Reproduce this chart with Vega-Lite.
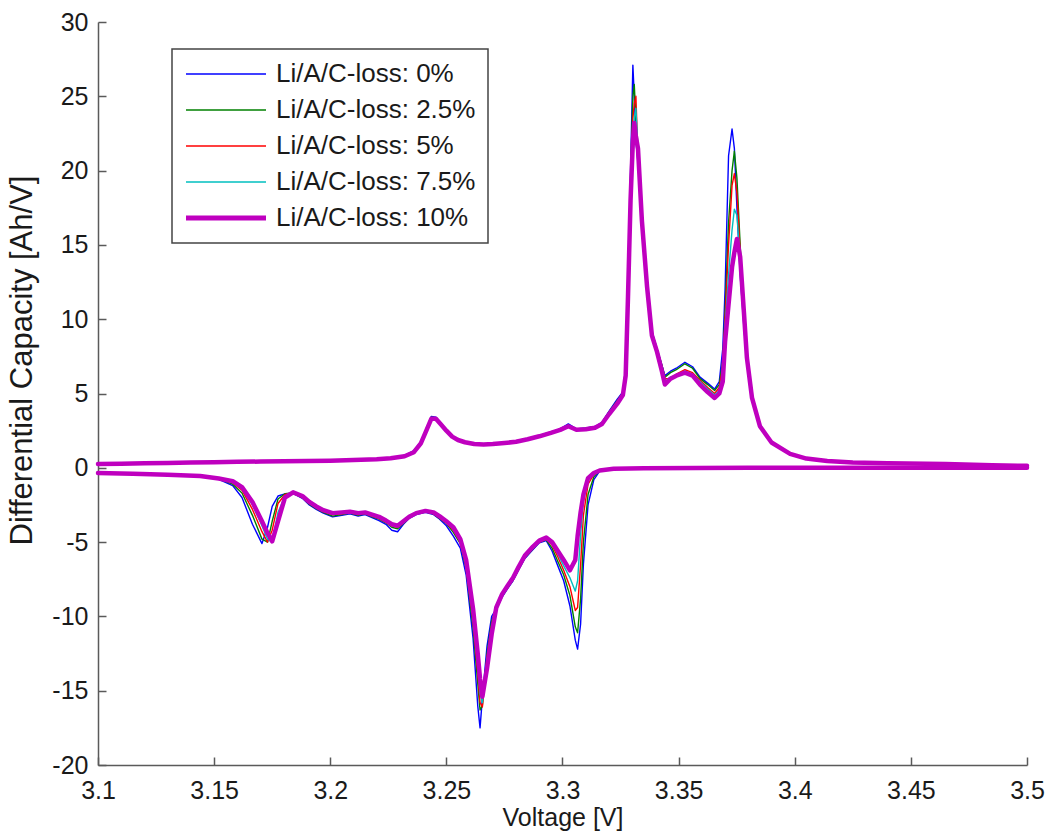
{
  "$schema": "https://vega.github.io/schema/vega-lite/v6.json",
  "width": 929,
  "height": 743,
  "autosize": {"type": "none"},
  "padding": {"left": 98, "top": 22, "right": 22, "bottom": 70},
  "background": "white",
  "config": {
    "view": {"stroke": null},
    "font": "Liberation Sans",
    "axis": {
      "grid": false,
      "domainColor": "#5a5a5a",
      "domainWidth": 1.5,
      "tickColor": "#5a5a5a",
      "tickWidth": 1.5,
      "tickSize": -8,
      "labelFont": "Liberation Sans",
      "labelFontSize": 25,
      "labelColor": "#1a1a1a",
      "titleFont": "Liberation Sans",
      "titleFontWeight": "normal",
      "titleColor": "#1a1a1a"
    }
  },
  "data": {
    "values": [
      {"br": "c", "v": 3.100, "a": 0.25, "b": 0.25, "c": 0.25, "d": 0.25, "e": 0.25},
      {"br": "c", "v": 3.110, "a": 0.28, "b": 0.27, "c": 0.28, "d": 0.28, "e": 0.27},
      {"br": "c", "v": 3.120, "a": 0.30, "b": 0.30, "c": 0.29, "d": 0.30, "e": 0.30},
      {"br": "c", "v": 3.130, "a": 0.33, "b": 0.33, "c": 0.33, "d": 0.32, "e": 0.33},
      {"br": "c", "v": 3.140, "a": 0.35, "b": 0.35, "c": 0.35, "d": 0.35, "e": 0.35},
      {"br": "c", "v": 3.150, "a": 0.38, "b": 0.37, "c": 0.38, "d": 0.38, "e": 0.37},
      {"br": "c", "v": 3.160, "a": 0.40, "b": 0.40, "c": 0.40, "d": 0.40, "e": 0.40},
      {"br": "c", "v": 3.170, "a": 0.42, "b": 0.42, "c": 0.42, "d": 0.41, "e": 0.42},
      {"br": "c", "v": 3.180, "a": 0.44, "b": 0.44, "c": 0.44, "d": 0.44, "e": 0.44},
      {"br": "c", "v": 3.190, "a": 0.46, "b": 0.46, "c": 0.46, "d": 0.46, "e": 0.46},
      {"br": "c", "v": 3.200, "a": 0.48, "b": 0.48, "c": 0.48, "d": 0.48, "e": 0.48},
      {"br": "c", "v": 3.210, "a": 0.52, "b": 0.52, "c": 0.52, "d": 0.52, "e": 0.52},
      {"br": "c", "v": 3.220, "a": 0.58, "b": 0.58, "c": 0.58, "d": 0.57, "e": 0.57},
      {"br": "c", "v": 3.226, "a": 0.66, "b": 0.65, "c": 0.65, "d": 0.65, "e": 0.64},
      {"br": "c", "v": 3.232, "a": 0.82, "b": 0.80, "c": 0.80, "d": 0.80, "e": 0.78},
      {"br": "c", "v": 3.236, "a": 1.15, "b": 1.10, "c": 1.10, "d": 1.08, "e": 1.05},
      {"br": "c", "v": 3.239, "a": 1.75, "b": 1.70, "c": 1.70, "d": 1.68, "e": 1.65},
      {"br": "c", "v": 3.2415, "a": 2.7, "b": 2.65, "c": 2.6, "d": 2.6, "e": 2.55},
      {"br": "c", "v": 3.2435, "a": 3.45, "b": 3.4, "c": 3.35, "d": 3.35, "e": 3.3},
      {"br": "c", "v": 3.2455, "a": 3.4, "b": 3.35, "c": 3.35, "d": 3.3, "e": 3.3},
      {"br": "c", "v": 3.2475, "a": 3.0, "b": 3.0, "c": 2.95, "d": 2.95, "e": 2.95},
      {"br": "c", "v": 3.250, "a": 2.55, "b": 2.55, "c": 2.5, "d": 2.5, "e": 2.5},
      {"br": "c", "v": 3.2525, "a": 2.15, "b": 2.15, "c": 2.12, "d": 2.12, "e": 2.1},
      {"br": "c", "v": 3.255, "a": 1.9, "b": 1.9, "c": 1.88, "d": 1.88, "e": 1.87},
      {"br": "c", "v": 3.258, "a": 1.75, "b": 1.74, "c": 1.73, "d": 1.73, "e": 1.72},
      {"br": "c", "v": 3.262, "a": 1.63, "b": 1.62, "c": 1.61, "d": 1.61, "e": 1.6},
      {"br": "c", "v": 3.266, "a": 1.58, "b": 1.58, "c": 1.57, "d": 1.57, "e": 1.56},
      {"br": "c", "v": 3.270, "a": 1.63, "b": 1.62, "c": 1.62, "d": 1.61, "e": 1.6},
      {"br": "c", "v": 3.275, "a": 1.70, "b": 1.70, "c": 1.68, "d": 1.68, "e": 1.67},
      {"br": "c", "v": 3.280, "a": 1.80, "b": 1.78, "c": 1.78, "d": 1.76, "e": 1.75},
      {"br": "c", "v": 3.285, "a": 1.97, "b": 1.95, "c": 1.94, "d": 1.93, "e": 1.92},
      {"br": "c", "v": 3.290, "a": 2.18, "b": 2.15, "c": 2.14, "d": 2.13, "e": 2.12},
      {"br": "c", "v": 3.295, "a": 2.42, "b": 2.40, "c": 2.38, "d": 2.37, "e": 2.35},
      {"br": "c", "v": 3.299, "a": 2.62, "b": 2.60, "c": 2.58, "d": 2.57, "e": 2.55},
      {"br": "c", "v": 3.3025, "a": 2.95, "b": 2.88, "c": 2.85, "d": 2.82, "e": 2.8},
      {"br": "c", "v": 3.306, "a": 2.62, "b": 2.6, "c": 2.6, "d": 2.58, "e": 2.56},
      {"br": "c", "v": 3.310, "a": 2.68, "b": 2.66, "c": 2.65, "d": 2.63, "e": 2.6},
      {"br": "c", "v": 3.314, "a": 2.78, "b": 2.76, "c": 2.75, "d": 2.73, "e": 2.7},
      {"br": "c", "v": 3.317, "a": 3.05, "b": 3.02, "c": 3.0, "d": 2.98, "e": 2.95},
      {"br": "c", "v": 3.320, "a": 3.8, "b": 3.75, "c": 3.7, "d": 3.65, "e": 3.6},
      {"br": "c", "v": 3.3235, "a": 4.6, "b": 4.5, "c": 4.45, "d": 4.4, "e": 4.3},
      {"br": "c", "v": 3.326, "a": 5.1, "b": 5.05, "c": 5.0, "d": 4.95, "e": 4.9},
      {"br": "c", "v": 3.3272, "a": 6.8, "b": 6.6, "c": 6.5, "d": 6.4, "e": 6.2},
      {"br": "c", "v": 3.3282, "a": 12.8, "b": 12.5, "c": 12.2, "d": 12.0, "e": 11.5},
      {"br": "c", "v": 3.3293, "a": 20.0, "b": 19.5, "c": 19.0, "d": 18.5, "e": 18.0},
      {"br": "c", "v": 3.3303, "a": 27.1, "b": 25.0, "c": 23.5, "d": 22.5, "e": 22.0},
      {"br": "c", "v": 3.3309, "a": 25.0, "b": 25.8, "c": 24.5, "d": 23.5, "e": 23.2},
      {"br": "c", "v": 3.3316, "a": 22.0, "b": 23.5, "c": 25.0, "d": 24.2, "e": 22.3},
      {"br": "c", "v": 3.3325, "a": 20.5, "b": 21.0, "c": 21.0, "d": 21.5, "e": 21.5},
      {"br": "c", "v": 3.3342, "a": 17.0, "b": 17.0, "c": 16.8, "d": 16.8, "e": 16.6},
      {"br": "c", "v": 3.3364, "a": 12.5, "b": 12.4, "c": 12.3, "d": 12.3, "e": 12.2},
      {"br": "c", "v": 3.3385, "a": 9.2, "b": 9.1, "c": 9.0, "d": 9.0, "e": 8.9},
      {"br": "c", "v": 3.3407, "a": 8.0, "b": 8.0, "c": 7.9, "d": 7.9, "e": 7.8},
      {"br": "c", "v": 3.3428, "a": 6.9, "b": 6.9, "c": 6.8, "d": 6.7, "e": 6.5},
      {"br": "c", "v": 3.3441, "a": 6.2, "b": 6.1, "c": 6.0, "d": 5.8, "e": 5.6},
      {"br": "c", "v": 3.3465, "a": 6.5, "b": 6.4, "c": 6.0, "d": 6.1, "e": 6.0},
      {"br": "c", "v": 3.349, "a": 6.7, "b": 6.6, "c": 6.3, "d": 6.2, "e": 6.2},
      {"br": "c", "v": 3.3527, "a": 7.1, "b": 7.0, "c": 6.6, "d": 6.5, "e": 6.4},
      {"br": "c", "v": 3.356, "a": 6.8, "b": 6.7, "c": 6.4, "d": 6.3, "e": 6.2},
      {"br": "c", "v": 3.3592, "a": 6.1, "b": 6.0, "c": 5.9, "d": 5.8, "e": 5.6},
      {"br": "c", "v": 3.3625, "a": 5.7, "b": 5.6, "c": 5.4, "d": 5.3, "e": 5.1},
      {"br": "c", "v": 3.3655, "a": 5.3, "b": 5.2, "c": 5.0, "d": 4.9, "e": 4.7},
      {"br": "c", "v": 3.3675, "a": 5.8, "b": 5.6, "c": 5.4, "d": 5.2, "e": 5.0},
      {"br": "c", "v": 3.369, "a": 8.0, "b": 7.2, "c": 6.8, "d": 6.3, "e": 5.8},
      {"br": "c", "v": 3.370, "a": 12.0, "b": 10.5, "c": 10.0, "d": 9.5, "e": 8.5},
      {"br": "c", "v": 3.3715, "a": 21.0, "b": 16.5, "c": 15.0, "d": 13.0, "e": 11.0},
      {"br": "c", "v": 3.373, "a": 22.8, "b": 20.0, "c": 19.0, "d": 16.0, "e": 13.5},
      {"br": "c", "v": 3.374, "a": 21.5, "b": 21.3, "c": 19.8, "d": 17.4, "e": 14.5},
      {"br": "c", "v": 3.3751, "a": 17.5, "b": 19.5, "c": 18.5, "d": 17.0, "e": 15.4},
      {"br": "c", "v": 3.3765, "a": 13.0, "b": 15.0, "c": 14.5, "d": 14.0, "e": 14.2},
      {"br": "c", "v": 3.3781, "a": 9.5, "b": 10.5, "c": 10.2, "d": 10.0, "e": 10.5},
      {"br": "c", "v": 3.3794, "a": 7.0, "b": 7.5, "c": 7.3, "d": 7.2, "e": 7.4},
      {"br": "c", "v": 3.3816, "a": 4.6, "b": 4.7, "c": 4.6, "d": 4.6, "e": 4.7},
      {"br": "c", "v": 3.385, "a": 2.9, "b": 2.85, "c": 2.8, "d": 2.8, "e": 2.8},
      {"br": "c", "v": 3.390, "a": 1.75, "b": 1.72, "c": 1.7, "d": 1.7, "e": 1.7},
      {"br": "c", "v": 3.398, "a": 0.98, "b": 0.96, "c": 0.95, "d": 0.95, "e": 0.94},
      {"br": "c", "v": 3.405, "a": 0.64, "b": 0.63, "c": 0.62, "d": 0.62, "e": 0.62},
      {"br": "c", "v": 3.414, "a": 0.48, "b": 0.47, "c": 0.47, "d": 0.47, "e": 0.46},
      {"br": "c", "v": 3.425, "a": 0.37, "b": 0.36, "c": 0.36, "d": 0.36, "e": 0.35},
      {"br": "c", "v": 3.440, "a": 0.30, "b": 0.30, "c": 0.30, "d": 0.30, "e": 0.30},
      {"br": "c", "v": 3.465, "a": 0.26, "b": 0.26, "c": 0.26, "d": 0.26, "e": 0.26},
      {"br": "c", "v": 3.485, "a": 0.18, "b": 0.18, "c": 0.18, "d": 0.18, "e": 0.18},
      {"br": "c", "v": 3.500, "a": 0.13, "b": 0.13, "c": 0.13, "d": 0.13, "e": 0.13},

      {"br": "d", "v": 3.100, "a": -0.30, "b": -0.30, "c": -0.30, "d": -0.32, "e": -0.35},
      {"br": "d", "v": 3.115, "a": -0.38, "b": -0.38, "c": -0.38, "d": -0.39, "e": -0.40},
      {"br": "d", "v": 3.130, "a": -0.45, "b": -0.45, "c": -0.45, "d": -0.46, "e": -0.47},
      {"br": "d", "v": 3.144, "a": -0.55, "b": -0.54, "c": -0.54, "d": -0.54, "e": -0.55},
      {"br": "d", "v": 3.152, "a": -0.78, "b": -0.75, "c": -0.74, "d": -0.73, "e": -0.72},
      {"br": "d", "v": 3.158, "a": -1.2, "b": -1.1, "c": -1.0, "d": -0.95, "e": -0.9},
      {"br": "d", "v": 3.162, "a": -2.0, "b": -1.7, "c": -1.5, "d": -1.4, "e": -1.3},
      {"br": "d", "v": 3.1665, "a": -3.8, "b": -3.2, "c": -2.8, "d": -2.5, "e": -2.3},
      {"br": "d", "v": 3.1706, "a": -5.1, "b": -4.8, "c": -4.3, "d": -3.9, "e": -3.6},
      {"br": "d", "v": 3.173, "a": -4.0, "b": -5.0, "c": -5.0, "d": -4.8, "e": -4.4},
      {"br": "d", "v": 3.175, "a": -2.6, "b": -3.6, "c": -4.2, "d": -5.0, "e": -4.95},
      {"br": "d", "v": 3.1775, "a": -1.9, "b": -2.1, "c": -2.4, "d": -3.0, "e": -3.6},
      {"br": "d", "v": 3.1805, "a": -1.75, "b": -1.75, "c": -1.8, "d": -1.9, "e": -2.0},
      {"br": "d", "v": 3.184, "a": -1.72, "b": -1.7, "c": -1.7, "d": -1.68, "e": -1.65},
      {"br": "d", "v": 3.188, "a": -2.05, "b": -2.0, "c": -2.0, "d": -1.95, "e": -1.9},
      {"br": "d", "v": 3.191, "a": -2.5, "b": -2.45, "c": -2.4, "d": -2.35, "e": -2.3},
      {"br": "d", "v": 3.194, "a": -2.8, "b": -2.75, "c": -2.7, "d": -2.65, "e": -2.6},
      {"br": "d", "v": 3.197, "a": -3.05, "b": -3.0, "c": -2.95, "d": -2.9, "e": -2.85},
      {"br": "d", "v": 3.201, "a": -3.3, "b": -3.25, "c": -3.15, "d": -3.1, "e": -3.05},
      {"br": "d", "v": 3.205, "a": -3.2, "b": -3.15, "c": -3.1, "d": -3.05, "e": -3.0},
      {"br": "d", "v": 3.2085, "a": -3.1, "b": -3.05, "c": -3.0, "d": -2.95, "e": -2.95},
      {"br": "d", "v": 3.212, "a": -3.25, "b": -3.2, "c": -3.15, "d": -3.1, "e": -3.05},
      {"br": "d", "v": 3.215, "a": -3.15, "b": -3.1, "c": -3.05, "d": -3.0, "e": -3.0},
      {"br": "d", "v": 3.218, "a": -3.35, "b": -3.3, "c": -3.25, "d": -3.2, "e": -3.15},
      {"br": "d", "v": 3.221, "a": -3.55, "b": -3.45, "c": -3.4, "d": -3.35, "e": -3.3},
      {"br": "d", "v": 3.224, "a": -3.8, "b": -3.7, "c": -3.65, "d": -3.6, "e": -3.55},
      {"br": "d", "v": 3.2265, "a": -4.2, "b": -4.0, "c": -3.9, "d": -3.8, "e": -3.8},
      {"br": "d", "v": 3.229, "a": -4.3, "b": -4.1, "c": -4.0, "d": -3.9, "e": -3.9},
      {"br": "d", "v": 3.2315, "a": -3.8, "b": -3.75, "c": -3.7, "d": -3.65, "e": -3.6},
      {"br": "d", "v": 3.234, "a": -3.4, "b": -3.35, "c": -3.35, "d": -3.3, "e": -3.3},
      {"br": "d", "v": 3.237, "a": -3.15, "b": -3.1, "c": -3.1, "d": -3.05, "e": -3.05},
      {"br": "d", "v": 3.241, "a": -3.0, "b": -2.95, "c": -2.95, "d": -2.9, "e": -2.9},
      {"br": "d", "v": 3.2445, "a": -3.15, "b": -3.1, "c": -3.1, "d": -3.05, "e": -3.0},
      {"br": "d", "v": 3.247, "a": -3.45, "b": -3.4, "c": -3.35, "d": -3.3, "e": -3.25},
      {"br": "d", "v": 3.250, "a": -3.9, "b": -3.75, "c": -3.7, "d": -3.65, "e": -3.6},
      {"br": "d", "v": 3.253, "a": -4.6, "b": -4.35, "c": -4.2, "d": -4.1, "e": -4.0},
      {"br": "d", "v": 3.256, "a": -5.4, "b": -5.1, "c": -5.0, "d": -4.9, "e": -4.8},
      {"br": "d", "v": 3.2585, "a": -7.2, "b": -6.8, "c": -6.6, "d": -6.4, "e": -6.2},
      {"br": "d", "v": 3.2615, "a": -11.5, "b": -10.8, "c": -10.3, "d": -10.0, "e": -9.5},
      {"br": "d", "v": 3.2635, "a": -16.0, "b": -14.5, "c": -13.8, "d": -13.2, "e": -12.5},
      {"br": "d", "v": 3.2645, "a": -17.5, "b": -16.3, "c": -15.8, "d": -15.2, "e": -14.2},
      {"br": "d", "v": 3.2655, "a": -15.5, "b": -16.0, "c": -16.1, "d": -15.8, "e": -15.4},
      {"br": "d", "v": 3.2675, "a": -12.0, "b": -12.5, "c": -12.8, "d": -13.0, "e": -13.5},
      {"br": "d", "v": 3.2695, "a": -10.0, "b": -10.3, "c": -10.6, "d": -10.8, "e": -11.2},
      {"br": "d", "v": 3.2715, "a": -9.5, "b": -9.4, "c": -9.3, "d": -9.3, "e": -9.4},
      {"br": "d", "v": 3.274, "a": -8.7, "b": -8.65, "c": -8.6, "d": -8.55, "e": -8.5},
      {"br": "d", "v": 3.2765, "a": -8.1, "b": -8.05, "c": -8.0, "d": -7.95, "e": -7.9},
      {"br": "d", "v": 3.2787, "a": -7.6, "b": -7.55, "c": -7.5, "d": -7.45, "e": -7.4},
      {"br": "d", "v": 3.281, "a": -6.9, "b": -6.85, "c": -6.8, "d": -6.75, "e": -6.7},
      {"br": "d", "v": 3.2838, "a": -6.1, "b": -6.05, "c": -6.0, "d": -5.95, "e": -5.9},
      {"br": "d", "v": 3.2873, "a": -5.5, "b": -5.45, "c": -5.4, "d": -5.35, "e": -5.3},
      {"br": "d", "v": 3.290, "a": -5.05, "b": -5.0, "c": -5.0, "d": -4.95, "e": -4.9},
      {"br": "d", "v": 3.293, "a": -4.9, "b": -4.85, "c": -4.8, "d": -4.75, "e": -4.7},
      {"br": "d", "v": 3.2955, "a": -5.6, "b": -5.4, "c": -5.2, "d": -5.1, "e": -5.0},
      {"br": "d", "v": 3.298, "a": -6.6, "b": -6.3, "c": -6.0, "d": -5.8, "e": -5.6},
      {"br": "d", "v": 3.3005, "a": -7.6, "b": -7.2, "c": -6.9, "d": -6.6, "e": -6.2},
      {"br": "d", "v": 3.3032, "a": -9.3, "b": -8.6, "c": -8.0, "d": -7.4, "e": -6.9},
      {"br": "d", "v": 3.3055, "a": -11.6, "b": -10.7, "c": -9.6, "d": -8.3, "e": -6.2},
      {"br": "d", "v": 3.3065, "a": -12.2, "b": -11.1, "c": -9.4, "d": -7.6, "e": -4.6},
      {"br": "d", "v": 3.3078, "a": -10.5, "b": -8.8, "c": -6.5, "d": -4.5, "e": -3.0},
      {"br": "d", "v": 3.309, "a": -6.5, "b": -5.0, "c": -3.2, "d": -2.2, "e": -1.8},
      {"br": "d", "v": 3.311, "a": -2.5, "b": -1.8, "c": -1.1, "d": -0.8, "e": -0.7},
      {"br": "d", "v": 3.3135, "a": -0.8, "b": -0.6, "c": -0.45, "d": -0.4, "e": -0.35},
      {"br": "d", "v": 3.316, "a": -0.22, "b": -0.2, "c": -0.2, "d": -0.2, "e": -0.18},
      {"br": "d", "v": 3.322, "a": -0.08, "b": -0.08, "c": -0.08, "d": -0.08, "e": -0.07},
      {"br": "d", "v": 3.335, "a": -0.03, "b": -0.03, "c": -0.03, "d": -0.03, "e": -0.03},
      {"br": "d", "v": 3.380, "a": 0, "b": 0, "c": 0, "d": 0, "e": 0},
      {"br": "d", "v": 3.440, "a": 0, "b": 0, "c": 0, "d": 0, "e": 0},
      {"br": "d", "v": 3.500, "a": 0, "b": 0, "c": 0, "d": 0, "e": 0}
    ]
  },
  "transform": [{"fold": ["a", "b", "c", "d", "e"], "as": ["k", "q"]}],
  "encoding": {
    "x": {
      "field": "v",
      "type": "quantitative",
      "scale": {"domain": [3.1, 3.5], "nice": false, "zero": false},
      "axis": {
        "title": "Voltage [V]",
        "titleFontSize": 25,
        "titlePadding": 2,
        "values": [3.1, 3.15, 3.2, 3.25, 3.3, 3.35, 3.4, 3.45, 3.5],
        "labelExpr": "'' + datum.value",
        "labelPadding": 21,
        "labelFlush": false,
        "labelOverlap": false
      }
    },
    "y": {
      "field": "q",
      "type": "quantitative",
      "scale": {"domain": [-20, 30], "nice": false, "zero": false},
      "axis": {
        "title": "Differential Capacity [Ah/V]",
        "titleFontSize": 31,
        "titleX": -76,
        "titleY": 338,
        "titleBaseline": "middle",
        "values": [-20, -15, -10, -5, 0, 5, 10, 15, 20, 25, 30],
        "labelExpr": "'' + datum.value",
        "labelPadding": 18,
        "labelFlush": false,
        "labelOverlap": false
      }
    },
    "color": {
      "field": "k",
      "type": "nominal",
      "scale": {
        "domain": ["a", "b", "c", "d", "e"],
        "range": ["#0000ff", "#008000", "#ff0000", "#00bfbf", "#bf00bf"]
      },
      "legend": {
        "title": null,
        "orient": "none",
        "legendX": 74,
        "legendY": 27,
        "padding": 12,
        "strokeColor": "#444444",
        "fillColor": "white",
        "symbolType": "stroke",
        "symbolSize": 6400,
        "symbolStrokeWidth": 1.5,
        "symbolOffset": 29,
        "labelFont": "Liberation Sans",
        "labelFontSize": 26,
        "labelColor": "#1a1a1a",
        "labelOffset": 37,
        "labelLimit": 400,
        "rowPadding": 10,
        "labelExpr": "datum.value === 'a' ? 'Li/A/C-loss: 0%' : datum.value === 'b' ? 'Li/A/C-loss: 2.5%' : datum.value === 'c' ? 'Li/A/C-loss: 5%' : datum.value === 'd' ? 'Li/A/C-loss: 7.5%' : 'Li/A/C-loss: 10%'",
        "encode": {
          "legend": {"update": {"strokeWidth": {"value": 1.5}}},
          "symbols": {
            "update": {
              "strokeWidth": {"signal": "datum.value === 'e' ? 5 : 1.5"}
            }
          }
        }
      }
    },
    "detail": {"field": "br", "type": "nominal"}
  },
  "layer": [
    {
      "transform": [{"filter": "datum.k !== 'e'"}],
      "mark": {"type": "line", "strokeWidth": 1.4, "strokeJoin": "round", "strokeCap": "round"}
    },
    {
      "transform": [{"filter": "datum.k === 'e'"}],
      "mark": {"type": "line", "strokeWidth": 4.5, "strokeJoin": "round", "strokeCap": "round"}
    }
  ]
}
